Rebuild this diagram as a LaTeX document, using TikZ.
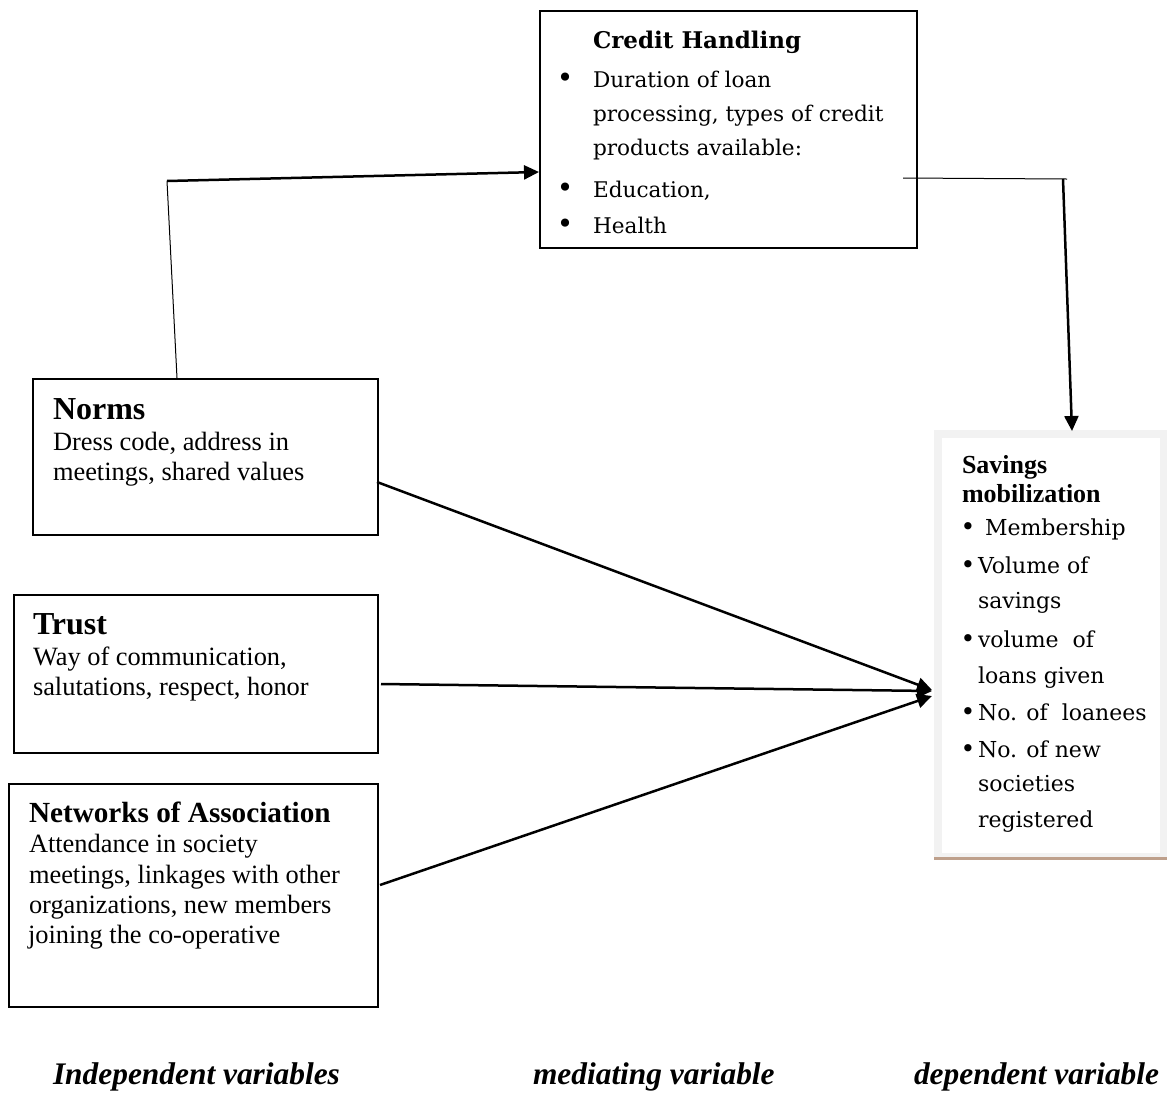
\documentclass[tikz,border=0pt]{standalone}
\usepackage{fontspec}
\setmainfont{Liberation Serif}
\newfontfamily\camb{DejaVu Serif}
\usetikzlibrary{arrows.meta}
\definecolor{framegray}{RGB}{242,242,242}
\definecolor{shadowbrown}{RGB}{190,160,140}
\begin{document}
\begin{tikzpicture}[x=0.5pt,y=-0.5pt,
  boxst/.style={draw=black, line width=0.75pt, inner sep=0pt, anchor=north west},
  txt/.style={anchor=base west, inner sep=0pt, outer sep=0pt},
  bul/.style={anchor=base, inner sep=0pt, outer sep=0pt},
  cbul/.style={bul, font=\camb\fontsize{14}{14}\selectfont},
  sbul/.style={bul, font=\camb\fontsize{12.5}{13}\selectfont},
  tb/.style={txt, font=\fontsize{13.2}{15}\selectfont},
  hb/.style={txt, font=\fontsize{16}{18}\selectfont\bfseries},
  cb/.style={txt, font=\camb\fontsize{10.8}{13}\selectfont},
  sb/.style={txt, font=\camb\fontsize{11}{13}\selectfont},
  thinln/.style={line width=0.5pt},
  thickarr/.style={line width=1.25pt, -{Triangle[length=7.5pt,width=7pt]}},
  lab/.style={txt, font=\fontsize{15.7}{18}\selectfont\bfseries\itshape}
]
\useasboundingbox (0,0) rectangle (1167,1093);

% ---------- boxes ----------
\node[boxst, line width=0.9pt, minimum width=188.5pt, minimum height=118.5pt] (credit) at (539,10) {};
\node[boxst, minimum width=172.5pt, minimum height=78pt] (norms) at (32,378) {};
\node[boxst, minimum width=182pt, minimum height=79pt] (trust) at (13,594) {};
\node[boxst, minimum width=184.5pt, minimum height=111.5pt] (networks) at (8,783) {};
\node[anchor=north west, inner sep=0pt, fill=framegray, minimum width=122pt, minimum height=215pt] (savings) at (934,430) {};
\fill[white] (942,438) rectangle (1160,853);
\draw[shadowbrown, line width=1.5pt] (934,858) -- (1180,858);

% ---------- Credit Handling ----------
\node[txt, font=\camb\bfseries\fontsize{11.5}{14}\selectfont] (chT) at (593,48) {Credit Handling};
\node[cbul] (chb1) at (565,87) {•};
\node[cb] (ch1) at (593,87) {Duration of loan};
\node[cb] (ch2) at (593,121) {processing, types of credit};
\node[cb] (ch3) at (593,155) {products available:};
\node[cbul] (chb2) at (565,197) {•};
\node[cb] (ch4) at (593,197) {Education,};
\node[cbul] (chb3) at (565,233) {•};
\node[cb] (ch5) at (593,233) {Health};

% ---------- Norms ----------
\node[hb] (nT) at (53,419) {Norms};
\node[tb] (n1) at (53,450) {Dress code, address in};
\node[tb] (n2) at (53,480) {meetings, shared values};

% ---------- Trust ----------
\node[hb] (tT) at (33,634) {Trust};
\node[tb] (t1) at (33,665) {Way of communication,};
\node[tb] (t2) at (33,695) {salutations, respect, honor};

% ---------- Networks ----------
\node[txt, font=\fontsize{14.6}{16}\selectfont\bfseries] (wT) at (29,822) {Networks of Association};
\node[tb] (w1) at (29,852) {Attendance in society};
\node[tb] (w2) at (29,883) {meetings, linkages with other};
\node[tb] (w3) at (29,913) {organizations, new members};
\node[tb] (w4) at (28,943) {joining the co-operative};

% ---------- Savings mobilization ----------
\node[txt, font=\fontsize{13}{15}\selectfont\bfseries] (sT1) at (962,473) {Savings};
\node[txt, font=\fontsize{13}{15}\selectfont\bfseries] (sT2) at (962,502) {mobilization};
\node[sbul] (sb1) at (968,535) {•};
\node[sb] (s1) at (985,535) {Membership};
\node[sbul] (sb2) at (968,573) {•};
\node[sb] (s2) at (978,573) {Volume of};
\node[sb] (s3) at (978,608) {savings};
\node[sbul] (sb3) at (968,647) {•};
\node[sb] (s4) at (978,647) {volume\ \ of};
\node[sb] (s5) at (978,683) {loans given};
\node[sbul] (sb4) at (968,720) {•};
\node[sb] (s6) at (978,720) {No. of\ \ loanees};
\node[sbul] (sb5) at (968,757) {•};
\node[sb] (s7) at (978,757) {No. of new};
\node[sb] (s8) at (978,791) {societies};
\node[sb] (s9) at (978,827) {registered};

% ---------- bottom labels ----------
\node[lab] (l1) at (53,1084) {Independent variables};
\node[lab] (l2) at (533,1084) {mediating variable};
\node[lab] (l3) at (914,1084) {dependent variable};

% ---------- connectors ----------
\coordinate (nTop) at (177,378);
\coordinate (c1) at (167,181);
\coordinate (c2) at (539,172);
\coordinate (c3) at (903,178);
\coordinate (c4) at (1067,179);
\coordinate (c5) at (1063,179);
\coordinate (c6) at (1072,431);
\coordinate (nR) at (377,482);
\coordinate (tR) at (381,684);
\coordinate (wR) at (380,885);
\coordinate (hitA) at (932,690);
\coordinate (hitB) at (932,691);
\coordinate (hitC) at (932,696);

\draw[thinln] (nTop) -- (c1);
\draw[thickarr] (c1) -- (c2);
\draw[thinln] (c3) -- (c4);
\draw[thickarr] (c5) -- (c6);
\draw[thickarr] (nR) -- (hitA);
\draw[thickarr] (tR) -- (hitB);
\draw[thickarr] (wR) -- (hitC);
\end{tikzpicture}
\end{document}
